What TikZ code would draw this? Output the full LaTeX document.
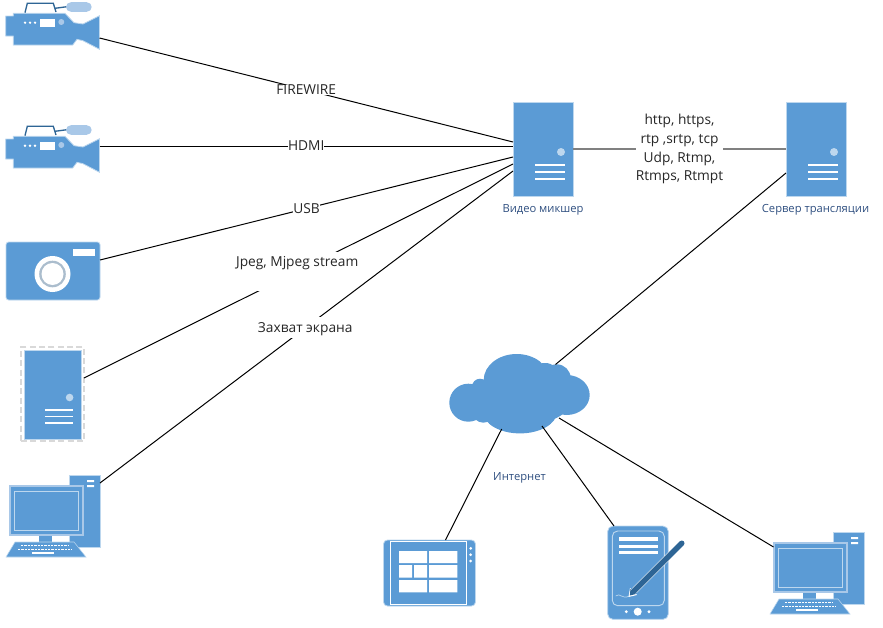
\documentclass[tikz,border=0pt]{standalone}
\usepackage{fontspec}
\setmainfont{Open Sans}
\definecolor{iconblue}{HTML}{5B9BD5}
\definecolor{iconedge}{HTML}{BDD7EE}
\definecolor{icondark}{HTML}{2E6595}
\definecolor{iconlight}{HTML}{A9C8E8}
\definecolor{captionblue}{HTML}{2F4F80}
\tikzset{every picture/.style={line width=0.75pt}}
\tikzset{
  iconfill/.style={fill=iconblue,draw=iconedge,line width=0.6pt},
  whitebar/.style={white,line width=1.35pt},
  wire/.style={black,line width=0.75pt},
  trunk/.style={black!50,line width=1.1pt},
  linklabel/.style={fill=white,inner sep=0pt,font=\fontsize{10.3}{10.7}\selectfont,text=black!85},
  caption/.style={inner sep=0pt,font=\fontsize{8.4}{10}\selectfont,text=captionblue},
  servericon/.pic={
    %Shape: Rectangle
    \node[iconfill,anchor=north west,inner sep=0pt,outer sep=0pt,minimum width=45pt,minimum height=70.5pt] (-body) at (0,0) {};
    \fill[iconedge] (48,50) circle (4);
    \foreach \yy in {63,70,77} {\draw[whitebar] (22,\yy) -- (52,\yy);}
  },
  videocam/.pic={
    %Handle and microphone
    \draw[icondark,line width=1pt] (25,12.7) -- (27.3,3.3) -- (53.3,3.3) -- (56,12) (55,8.3) -- (67,6.7);
    \fill[iconlight] (70.7,2.3) rectangle (87,11.7);
    \fill[iconlight] (70.7,7) circle (4.7) (87,7) circle (4.7);
    %Shape: Polygon
    \draw[iconfill] (5.7,16) -- (13.3,16) -- (13.3,13.3) -- (65,13.3) -- (74,22.7) -- (83,24) -- (99.5,15.7) -- (99.5,49.3) -- (83,40.7) -- (77,39.3) -- (72.7,45) -- (13.3,45) -- (13.3,36) -- (5.7,36) -- cycle ;
    \foreach \xx in {25,30,35} {\fill[white] (\xx,22.7) circle (1.3);}
    \fill[white] (40.3,19) rectangle (54.7,26.7);
    \fill[iconlight] (61.3,22) circle (3);
    \coordinate (-port) at (99.5,38);
    \coordinate (-portmid) at (99.5,23);
  },
  desktop/.pic={
    %Tower
    \draw[iconfill] (69,0) rectangle (100,72);
    \fill[white] (87,5) rectangle (94,7) (87,10) rectangle (94,12);
    %Stand and keyboard
    \fill[iconblue] (39,58) rectangle (52,68);
    \draw[fill=iconblue,draw=iconedge,line width=0.4pt] (15,67) -- (74,67) -- (86,82) -- (6,82) -- cycle ;
    \draw[white,line width=1.4pt,dash pattern={on 1.8pt off 0.7pt}] (21,70.5) -- (68,70.5) (18,74.5) -- (72,74.5);
    \draw[white,line width=1.4pt] (32,78) -- (54,78);
    %Monitor
    \draw[fill=iconblue,draw=iconlight,line width=0.9pt] (10,11) rectangle (83,60);
    \draw[draw=iconedge,line width=0.7pt] (14,16) rectangle (78,55);
    \coordinate (-tower) at (100,8);
    \coordinate (-screen) at (9.5,15);
  }
}

\begin{document}
\begin{tikzpicture}[x=0.75pt,y=-0.75pt]
\useasboundingbox (0,0) rectangle (883,628);

%Servers
\pic (mixer) at (513,102) {servericon};
\pic (relay) at (786,102) {servericon};

%Sources on the left
\pic (camfw) at (0,0) {videocam};
\pic (camhd) at (0,123) {videocam};
\pic (desksrc) at (0,475) {desktop};

%Shape: Photo camera
\node[iconfill,rounded corners=2pt,inner sep=0pt,outer sep=0pt,minimum width=70.5pt,minimum height=43.5pt] (photo) at (53,271) {};
\fill[white] (73,249) rectangle (95,256);
\fill[white] (52.5,274) circle (18);
\fill[iconedge!70!gray] (52.5,274) circle (13.3);
\fill[white] (52.5,274) circle (11);

%Shape: Dashed frame and server
\node[draw=black!15,dash pattern={on 4.5pt off 2.5pt},line width=1pt,inner sep=0pt,outer sep=0pt,minimum width=47.25pt,minimum height=70.5pt] (framed) at (52.5,394) {};
\pic[scale=0.95,transform shape] at (24,350) {servericon};

%Shape: Cloud
\fill[iconblue] (468.3,402.7) circle (19) (483.3,411.7) circle (11) (480,386.7) circle (8)
  (516.7,380) ellipse (33 and 26) (556.7,378.3) circle (14) (566.7,395) ellipse (23 and 20)
  (520,411.7) ellipse (37 and 21.7) (530,396.7) ellipse (43 and 27)
  (490,396) ellipse (22 and 16) (545,375) ellipse (14 and 12);
\coordinate (cloudtop) at (555.5,364.5);
\coordinate (cloudleft) at (501.7,429);
\coordinate (cloudmid) at (542,426);
\coordinate (cloudright) at (559,418);

%Shape: Tablet
\node[iconfill,rounded corners=3pt,inner sep=0pt,outer sep=0pt,minimum width=69pt,minimum height=49.5pt] (tablet) at (429.5,573) {};
\draw[white,line width=0.6pt] (390,541.7) rectangle (466,604);
\fill[white] (399,551) rectangle (427,563) (429,551) rectangle (457.3,563);
\fill[white] (399,565) rectangle (412,577.7) (414,565) rectangle (427,577.7) (429,565) rectangle (457.3,577.7);
\fill[white] (399,580) rectangle (427,592.3) (429,580) rectangle (457.3,592.3);
\foreach \yy in {548.3,554.7,561} {\fill[white] (470.7,\yy) circle (1.5);}

%Shape: Handheld with pen
\node[iconfill,rounded corners=4pt,inner sep=0pt,outer sep=0pt,minimum width=45.5pt,minimum height=70pt] (handheld) at (638,572.7) {};
\draw[iconedge,rounded corners=4pt,line width=0.7pt] (612.3,531) rectangle (664.3,605.7);
\foreach \yy in {539,546.3,552.7} {\draw[white,line width=2.4pt] (619,\yy) -- (658,\yy);}
\fill[white] (637.7,611.7) circle (4) (626.3,611.7) circle (1.6) (649,611.7) circle (1.6);
\draw[iconedge,line width=0.5pt] (615.7,596) .. controls (620,592) and (622,600) .. (629.3,596);
\draw[white,line width=5pt,line cap=round] (681.7,543.3) -- (635,590);
\fill[white] (628.5,597) -- (630,588) -- (637,595) -- cycle;
\draw[icondark,line width=4.2pt,line cap=round] (681.7,543.3) -- (634,591);
\fill[icondark] (629.8,595.5) -- (630.5,589) -- (636,594) -- cycle;

%Shape: Desktop on the right
\pic (deskend) at (764,532) {desktop};

%Straight Lines
\draw[wire] (camfw-port) -- node[linklabel,pos=0.5] (lblfire) {FIREWIRE} ([yshift=5.25pt]mixer-body.west);
\draw[wire] (camhd-portmid) -- node[linklabel,pos=0.5] (lblhdmi) {HDMI} ([yshift=2.25pt]mixer-body.west);
\draw[wire] ([yshift=8.25pt]photo.east) -- node[linklabel,pos=0.5] (lblusb) {USB} ([yshift=-6pt]mixer-body.west);
\draw[wire] ([yshift=12pt]framed.east) -- node[linklabel,pos=0.497,text height=11pt,text depth=18.25pt] (lbljpeg) {Jpeg, Mjpeg stream} ([yshift=-11.25pt]mixer-body.west);
\draw[wire] (desksrc-tower) -- node[linklabel,pos=0.497,text height=11.5pt,text depth=4.25pt] (lblscreen) {Захват экрана} ([yshift=-16.5pt]mixer-body.west);
\draw[trunk] (mixer-body.east) -- node[linklabel,align=center,pos=0.5] (lblproto) {http, https,\\[3.5pt]rtp ,srtp, tcp\\[3.5pt]Udp, Rtmp,\\[3.5pt]Rtmps, Rtmpt} (relay-body.west);
\draw[wire] ([yshift=-18pt]relay-body.west) -- (cloudtop);
\draw[wire] (cloudleft) -- ([xshift=12pt]tablet.north);
\draw[wire] (cloudmid) -- ([xshift=-18pt]handheld.north);
\draw[wire] (cloudright) -- (deskend-screen);

% Text Node
\node[caption] (capmixer) at (543,209.5) {Видео микшер};
% Text Node
\node[caption] (caprelay) at (815.5,209.5) {Сервер трансляции};
% Text Node
\node[caption] (capcloud) at (519.5,478) {Интернет};

\end{tikzpicture}
\end{document}
